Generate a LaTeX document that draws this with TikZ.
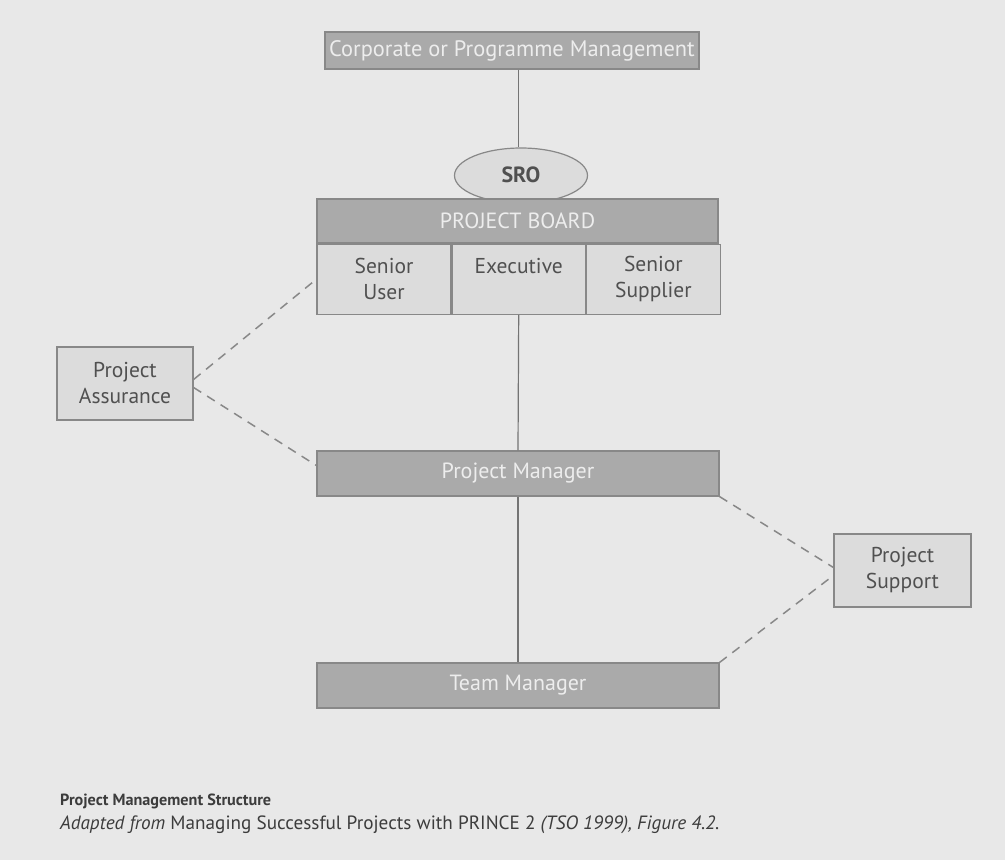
\documentclass[tikz,border=0pt]{standalone}
\usepackage{fontspec}
\setmainfont{PT Sans}
\usetikzlibrary{shapes.geometric}
\definecolor{bg}{HTML}{E8E8E8}
\definecolor{darkfill}{HTML}{AAAAAA}
\definecolor{lightfill}{HTML}{DCDCDC}
\definecolor{edge}{HTML}{888888}
\definecolor{ink}{HTML}{505050}
\definecolor{capink}{HTML}{3C3C3C}
\definecolor{paleink}{HTML}{EDEDED}
\begin{document}
\begin{tikzpicture}[x=1pt,y=-1pt,
  darkbox/.style={draw=edge, fill=darkfill, line width=1.2pt, text=paleink,
    inner sep=0pt, font=\fontsize{22}{24}\selectfont},
  lightbox/.style={draw=edge, fill=lightfill, line width=1.2pt, text=ink,
    inner sep=0pt, align=center, font=\fontsize{21.5}{26}\selectfont},
  link/.style={draw=edge!85!black, line width=1.2pt},
  dashlink/.style={draw=edge, line width=1.5pt, dash pattern=on 9pt off 7pt},
  caption/.style={anchor=base west, inner sep=0pt, text=capink}]
\fill[bg] (0,0) rectangle (1005,860);
\useasboundingbox (0,0) rectangle (1005,860);

% top of the hierarchy
\node[darkbox, minimum width=374pt, minimum height=37pt,
  font=\fontsize{22.4}{24}\selectfont] (corp) at (512,50.5) {Corporate or Programme Management};

% senior responsible owner, partly tucked behind the board
\node[lightbox, ellipse, minimum width=133pt, minimum height=55pt,
  font=\bfseries\fontsize{22}{24}\selectfont] (sro) at (521,175.5) {\raisebox{2pt}{SRO}};

% project board with its three roles
\node[darkbox, minimum width=401pt, minimum height=44pt] (board) at (517.5,221) {PROJECT BOARD};
\node[lightbox, minimum width=134pt, minimum height=70pt, anchor=north west]
  (suser) at (board.south west) {Senior\\User};
\node[lightbox, minimum width=133pt, minimum height=70pt, anchor=north west]
  (exec) at (suser.north east) {Executive\\\phantom{User}};
\node[lightbox, minimum width=134pt, minimum height=70pt, anchor=north west]
  (ssupp) at (exec.north east) {Senior\\Supplier};

% management levels
\node[darkbox, minimum width=402pt, minimum height=45pt] (pm) at (518,473.5) {Project Manager};
\node[darkbox, minimum width=402pt, minimum height=45pt] (tm) at (518,685.5) {Team Manager};

% side functions
\node[lightbox, minimum width=136pt, minimum height=73pt] (pa) at (125,383.5) {Project\\Assurance};
\node[lightbox, minimum width=137pt, minimum height=73pt] (ps) at (902.5,570.5) {Project\\Support};

% line of authority
\draw[link] (corp.south -| exec.north) -- (sro.north -| exec.north);
\draw[link] (exec.south) -- (pm.north);
\draw[link] (pm.south) -- (tm.north);

% assurance and support links
\draw[dashlink] ([yshift=4pt]pa.east) -- (suser.west);
\draw[dashlink] ([yshift=-4pt]pa.east) -- ([yshift=8pt]pm.west);
\draw[dashlink] (pm.south east) -- ([yshift=3pt]ps.west);
\draw[dashlink] (tm.north east) -- ([yshift=-5pt]ps.west);

% caption
\node[caption, font=\bfseries\fontsize{16.2}{18}\selectfont] (title) at (60,805)
  {Project Management Structure};
\node[caption, font=\fontsize{19.2}{20}\selectfont] (source) at (60,829)
  {\textit{Adapted from} Managing Successful Projects with PRINCE 2 \textit{(TSO 1999), Figure 4.2.}};
\end{tikzpicture}
\end{document}
